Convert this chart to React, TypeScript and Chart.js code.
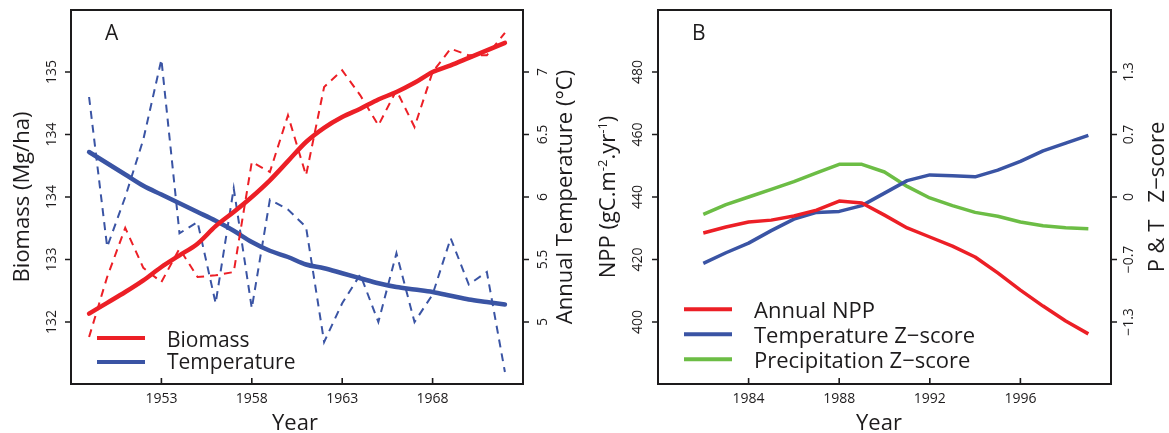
import React, { useEffect, useRef } from 'react';
import { Chart, registerables } from 'chart.js';

Chart.register(...registerables);

// ---------- Panel A data ----------
const yearsA = [1949, 1950, 1951, 1952, 1953, 1954, 1955, 1956, 1957, 1958, 1959, 1960,
  1961, 1962, 1963, 1964, 1965, 1966, 1967, 1968, 1969, 1970, 1971, 1972];
const biomassObserved = [131.82, 132.54, 133.13, 132.65, 132.48, 132.88, 132.54, 132.56, 132.6, 133.92, 133.8, 134.48,
  133.76, 134.82, 135.02, 134.72, 134.36, 134.78, 134.34, 135.0, 135.28, 135.2, 135.2, 135.47];
const biomassFitted = [132.1, 132.23, 132.36, 132.5, 132.66, 132.8, 132.94, 133.15, 133.32, 133.5, 133.7, 133.93,
  134.16, 134.33, 134.46, 134.56, 134.67, 134.76, 134.87, 135.0, 135.08, 135.17, 135.26, 135.35];
const temperatureObserved = [6.8, 5.6, 6.0, 6.46, 7.1, 5.71, 5.8, 5.15, 6.07, 5.11, 5.98, 5.9,
  5.76, 4.84, 5.15, 5.38, 5.0, 5.55, 5.0, 5.22, 5.67, 5.3, 5.4, 4.6];
const temperatureFitted = [6.36, 6.27, 6.18, 6.09, 6.02, 5.95, 5.88, 5.81, 5.73, 5.64, 5.57, 5.52,
  5.46, 5.43, 5.39, 5.35, 5.31, 5.28, 5.26, 5.24, 5.21, 5.18, 5.16, 5.14];
const yearTicksA = [1953, 1958, 1963, 1968];
const biomassTicks = [132, 132.75, 133.5, 134.25, 135];
const biomassTickLabels = ['132', '133', '134', '134', '135'];
const temperatureTicks = [5, 5.5, 6, 6.5, 7];
const temperatureTickLabels = ['5', '5.5', '6', '6.5', '7'];

// ---------- Panel B data ----------
const yearsB = [1982, 1983, 1984, 1985, 1986, 1987, 1988, 1989, 1990, 1991, 1992, 1993, 1994, 1995, 1996, 1997, 1998, 1999];
const nppAnnual = [428.5, 430.4, 432.0, 432.6, 433.9, 435.8, 438.7, 438.1, 434.2, 430.1, 427.2, 424.3, 420.8, 415.7, 410.2, 405.1, 400.3, 396.2];
const temperatureZ = [-0.69, -0.58, -0.48, -0.35, -0.23, -0.16, -0.15, -0.09, 0.04, 0.17, 0.23, 0.22, 0.21, 0.28, 0.37, 0.48, 0.56, 0.64];
const precipitationZ = [-0.18, -0.08, 0.0, 0.08, 0.16, 0.25, 0.34, 0.34, 0.26, 0.11, -0.01, -0.09, -0.16, -0.2, -0.26, -0.3, -0.32, -0.33];
const yearTicksB = [1984, 1988, 1992, 1996];
const nppTicks = [400, 420, 440, 460, 480];
const zTicks = [-1.3, -0.65, 0, 0.65, 1.3];
const zTickLabels = ['\u22121.3', '\u22120.7', '0', '0.7', '1.3'];

const RED = '#ec1f26';
const BLUE = '#3a54a4';
const GREEN = '#6cbd45';
const INK = '#1d1b1c';
const FONT = '"Open Sans", sans-serif';

type Seg = { text: string; sup?: boolean };

function xy(xs: number[], ys: number[]) {
  return xs.map((x, i) => ({ x, y: ys[i] }));
}

function makeDecor(cfg: any) {
  return {
    id: 'decor' + cfg.letter,
    afterDraw(chart: any) {
      const ctx = chart.ctx as CanvasRenderingContext2D;
      const a = chart.chartArea;
      const sx = chart.scales.x;
      const sl = chart.scales[cfg.leftScale];
      const sr = chart.scales[cfg.rightScale];
      ctx.save();
      ctx.strokeStyle = INK;
      ctx.fillStyle = INK;
      ctx.lineWidth = 2;
      ctx.strokeRect(a.left, a.top, a.right - a.left, a.bottom - a.top);
      ctx.lineWidth = 1.6;
      ctx.beginPath();
      cfg.xTicks.forEach((v: number) => {
        const p = sx.getPixelForValue(v);
        ctx.moveTo(p, a.bottom);
        ctx.lineTo(p, a.bottom - 6);
      });
      cfg.leftTicks.forEach((v: number) => {
        const p = sl.getPixelForValue(v);
        ctx.moveTo(a.left, p);
        ctx.lineTo(a.left - 6, p);
      });
      cfg.rightTicks.forEach((v: number) => {
        const p = sr.getPixelForValue(v);
        ctx.moveTo(a.right, p);
        ctx.lineTo(a.right + 6, p);
      });
      ctx.stroke();

      // tick labels
      ctx.font = `14px ${FONT}`;
      ctx.textAlign = 'center';
      ctx.textBaseline = 'alphabetic';
      cfg.xTicks.forEach((v: number, i: number) => {
        ctx.fillText(cfg.xLabels[i], sx.getPixelForValue(v), 403);
      });
      const vtext = (t: string, x: number, y: number) => {
        ctx.save();
        ctx.translate(x, y);
        ctx.rotate(-Math.PI / 2);
        ctx.fillText(t, 0, 0);
        ctx.restore();
      };
      cfg.leftTicks.forEach((v: number, i: number) => vtext(cfg.leftLabels[i], cfg.leftLabelX, sl.getPixelForValue(v)));
      cfg.rightTicks.forEach((v: number, i: number) => vtext(cfg.rightLabels[i], cfg.rightLabelX, sr.getPixelForValue(v)));

      // axis titles
      const titleSize = 22;
      ctx.font = `${titleSize}px ${FONT}`;
      ctx.fillText('Year', cfg.xTitleX, 430);
      const vsegs = (segs: Seg[], x: number, y: number) => {
        ctx.save();
        ctx.translate(x, y);
        ctx.rotate(-Math.PI / 2);
        ctx.textAlign = 'left';
        const widths = segs.map((s) => {
          ctx.font = `${s.sup ? 13 : titleSize}px ${FONT}`;
          return ctx.measureText(s.text).width;
        });
        const total = widths.reduce((p, c) => p + c, 0);
        let cx = -total / 2;
        segs.forEach((s, i) => {
          ctx.font = `${s.sup ? 13 : titleSize}px ${FONT}`;
          ctx.fillText(s.text, cx, s.sup ? -8 : 0);
          cx += widths[i];
        });
        ctx.restore();
      };
      vsegs(cfg.leftTitle, cfg.leftTitleX, 197);
      vsegs(cfg.rightTitle, cfg.rightTitleX, 197);

      // panel letter
      ctx.textAlign = 'left';
      ctx.font = `21px ${FONT}`;
      ctx.fillText(cfg.letter, cfg.letterX, 40);

      // legend
      const lg = cfg.legend;
      ctx.font = `${lg.size}px ${FONT}`;
      lg.items.forEach((idx: number, i: number) => {
        const ds = chart.data.datasets[idx];
        ctx.strokeStyle = ds.borderColor;
        ctx.lineWidth = 4;
        ctx.lineCap = 'butt';
        ctx.beginPath();
        ctx.moveTo(lg.x1, lg.lineYs[i]);
        ctx.lineTo(lg.x2, lg.lineYs[i]);
        ctx.stroke();
        ctx.fillStyle = INK;
        ctx.fillText(ds.label, lg.textX, lg.textYs[i]);
      });
      ctx.restore();
    },
  };
}

function PanelA() {
  const ref = useRef<HTMLCanvasElement>(null);
  useEffect(() => {
    const chart = new Chart(ref.current!, {
      type: 'line',
      data: {
        datasets: [
          { label: 'Biomass obs', data: xy(yearsA, biomassObserved), yAxisID: 'yB', borderColor: RED, borderWidth: 2, borderDash: [8, 6], pointRadius: 0, tension: 0 },
          { label: 'Biomass', data: xy(yearsA, biomassFitted), yAxisID: 'yB', borderColor: RED, borderWidth: 4.5, pointRadius: 0, cubicInterpolationMode: 'monotone', borderCapStyle: 'round' },
          { label: 'Temperature obs', data: xy(yearsA, temperatureObserved), yAxisID: 'yT', borderColor: BLUE, borderWidth: 2, borderDash: [8, 6], pointRadius: 0, tension: 0 },
          { label: 'Temperature', data: xy(yearsA, temperatureFitted), yAxisID: 'yT', borderColor: BLUE, borderWidth: 4.5, pointRadius: 0, cubicInterpolationMode: 'monotone', borderCapStyle: 'round' },
        ],
      },
      options: {
        animation: false,
        responsive: false,
        maintainAspectRatio: false,
        devicePixelRatio: 1,
        layout: { padding: { left: 71, right: 61, top: 10, bottom: 49 } },
        plugins: { legend: { display: false }, tooltip: { enabled: false } },
        scales: {
          x: { type: 'linear', display: false, min: 1948, max: 1973 },
          yB: { type: 'linear', display: false, position: 'left', min: 131.256, max: 135.744 },
          yT: { type: 'linear', display: false, position: 'right', min: 4.504, max: 7.496 },
        },
      },
      plugins: [
        makeDecor({
          letter: 'A', letterX: 105,
          xTicks: yearTicksA, xLabels: yearTicksA.map(String), xTitleX: 295,
          leftScale: 'yB', leftTicks: biomassTicks, leftLabels: biomassTickLabels, leftLabelX: 55.5,
          rightScale: 'yT', rightTicks: temperatureTicks, rightLabels: temperatureTickLabels, rightLabelX: 547,
          leftTitle: [{ text: 'Biomass (Mg/ha)' }], leftTitleX: 28.5,
          rightTitle: [{ text: 'Annual Temperature (\u00B0C)' }], rightTitleX: 571.5,
          legend: { size: 21, x1: 97, x2: 145, textX: 167, lineYs: [338, 362], textYs: [346.5, 368.5], items: [1, 3] },
        }),
      ],
    } as any);
    return () => chart.destroy();
  }, []);
  return <canvas ref={ref} width={584} height={433} style={{ position: 'absolute', left: 0, top: 0, width: 584, height: 433 }} />;
}

function PanelB() {
  const ref = useRef<HTMLCanvasElement>(null);
  useEffect(() => {
    const chart = new Chart(ref.current!, {
      type: 'line',
      data: {
        datasets: [
          { label: 'Annual NPP', data: xy(yearsB, nppAnnual), yAxisID: 'yN', borderColor: RED, borderWidth: 3.5, pointRadius: 0, tension: 0, borderJoinStyle: 'round' },
          { label: 'Temperature Z\u2212score', data: xy(yearsB, temperatureZ), yAxisID: 'yZ', borderColor: BLUE, borderWidth: 3.5, pointRadius: 0, tension: 0, borderJoinStyle: 'round' },
          { label: 'Precipitation Z\u2212score', data: xy(yearsB, precipitationZ), yAxisID: 'yZ', borderColor: GREEN, borderWidth: 3.5, pointRadius: 0, tension: 0, borderJoinStyle: 'round' },
        ],
      },
      options: {
        animation: false,
        responsive: false,
        maintainAspectRatio: false,
        devicePixelRatio: 1,
        layout: { padding: { left: 74, right: 58, top: 10, bottom: 49 } },
        plugins: { legend: { display: false }, tooltip: { enabled: false } },
        scales: {
          x: { type: 'linear', display: false, min: 1980, max: 2000 },
          yN: { type: 'linear', display: false, position: 'left', min: 380.16, max: 499.84 },
          yZ: { type: 'linear', display: false, position: 'right', min: -1.945, max: 1.945 },
        },
      },
      plugins: [
        makeDecor({
          letter: 'B', letterX: 108,
          xTicks: yearTicksB, xLabels: yearTicksB.map(String), xTitleX: 295,
          leftScale: 'yN', leftTicks: nppTicks, leftLabels: nppTicks.map(String), leftLabelX: 57.7,
          rightScale: 'yZ', rightTicks: zTicks, rightLabels: zTickLabels, rightLabelX: 549.3,
          leftTitle: [{ text: 'NPP (gC.m' }, { text: '-2', sup: true }, { text: '.yr' }, { text: '-1', sup: true }, { text: ')' }], leftTitleX: 31,
          rightTitle: [{ text: 'P & T   Z\u2212score' }], rightTitleX: 580,
          legend: { size: 22, x1: 100, x2: 148, textX: 170, lineYs: [309.3, 334.3, 359.3], textYs: [318.3, 343.3, 368.3], items: [0, 1, 2] },
        }),
      ],
    } as any);
    return () => chart.destroy();
  }, []);
  return <canvas ref={ref} width={585} height={433} style={{ position: 'absolute', left: 584, top: 0, width: 585, height: 433 }} />;
}

export default function App() {
  return (
    <div style={{ position: 'absolute', left: 0, top: 0, width: 1169, height: 433, background: '#fff', overflow: 'hidden' }}>
      <PanelA />
      <PanelB />
    </div>
  );
}
